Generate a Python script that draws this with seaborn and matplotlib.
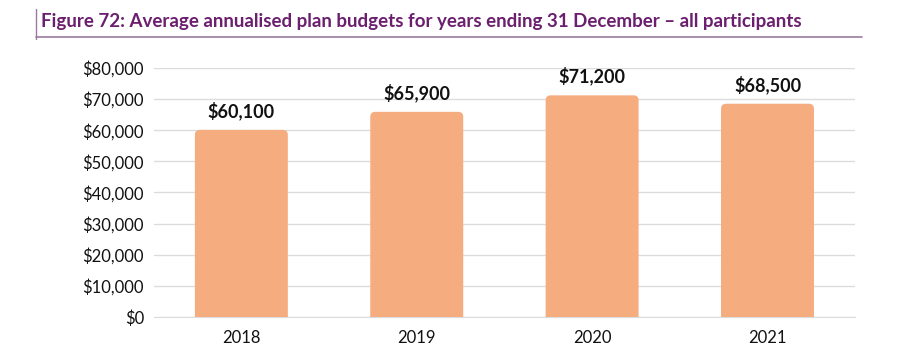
import matplotlib
matplotlib.use("Agg")
import matplotlib.pyplot as plt
from matplotlib.lines import Line2D
from matplotlib.patches import FancyBboxPatch
from matplotlib.ticker import FuncFormatter
import pandas as pd
import seaborn as sns

# data
years = ["2018", "2019", "2020", "2021"]
budgets = [60100, 65900, 71200, 68500]

bar_color = "#F5AD80"
title_color = "#6B1F6E"

sns.set_style("white")
plt.rcParams["font.family"] = ["Lato", "DejaVu Sans"]

df = pd.DataFrame({"year": years, "budget": budgets})

fig = plt.figure(figsize=(9.04, 3.52), dpi=100)
ax = fig.add_axes([0.170, 0.0994, 0.776, 0.7076])
sns.barplot(data=df, x="year", y="budget", color=bar_color, width=0.53,
            saturation=1, ax=ax, zorder=3)

ax.set_ylim(0, 80000)
ax.set_yticks(range(0, 80001, 10000))
ax.yaxis.set_major_formatter(FuncFormatter(lambda v, p: "${:,.0f}".format(v)))
ax.grid(axis="y", color="#DCDCDC", linewidth=1, zorder=0)
ax.set_xlabel("")
ax.set_ylabel("")
for s in ["top", "right", "left"]:
    ax.spines[s].set_visible(False)
ax.spines["bottom"].set_color("#DCDCDC")
ax.tick_params(axis="both", length=0, labelsize=12, colors="#111111")
ax.tick_params(axis="y", pad=7)
ax.tick_params(axis="x", pad=9)

# rounded top corners: swap each bar for a rounded box that dips below 0
fig.canvas.draw()
bbox = ax.get_window_extent()
x0, x1 = ax.get_xlim()
px_x = (x1 - x0) / bbox.width
px_y = 80000 / bbox.height
r = 5 * px_x
for p in list(ax.patches):
    x, w, h = p.get_x(), p.get_width(), p.get_height()
    p.set_visible(False)
    ax.add_patch(FancyBboxPatch((x, -20 * px_y), w, h + 20 * px_y,
                                boxstyle="round,pad=0,rounding_size=%f" % r,
                                mutation_aspect=px_y / px_x,
                                facecolor=bar_color, edgecolor="none", zorder=3,
                                clip_on=True))

for i, v in enumerate(budgets):
    ax.annotate("${:,.0f}".format(v), (i, v),
                xytext=(0, 7), textcoords="offset points", ha="center",
                va="bottom", fontsize=13, fontweight="bold", color="#111111")

# title with left bar and underline
fig.text(0.045, 0.938, "Figure 72: Average annualised plan budgets for years ending 31 December \u2013 all participants",
         fontsize=13.5, fontweight="bold", color=title_color, va="center")
fig.add_artist(Line2D([0.040, 0.040], [0.89, 0.975], color="#9C7AA0", linewidth=1))
fig.add_artist(Line2D([0.040, 0.953], [0.894, 0.894], color="#9C7AA0", linewidth=1.2))

fig.savefig("out.png", dpi=100)
